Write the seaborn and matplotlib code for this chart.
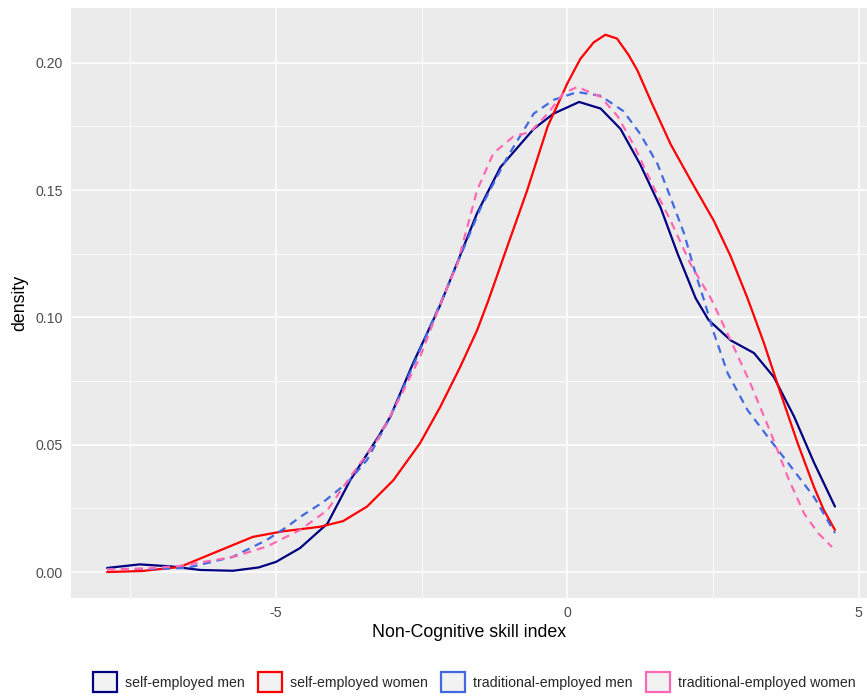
import matplotlib
matplotlib.use("Agg")
import matplotlib.pyplot as plt
import seaborn as sns
import pandas as pd
from matplotlib.patches import Patch
from matplotlib.ticker import MultipleLocator, FormatStrFormatter

# valeurs
groups = ["self-employed men", "self-employed women",
          "traditional-employed men", "traditional-employed women"]
colors = ["#000080", "#FF0000", "#4169E1", "#FF69B4"]

se_men_x = [-7.9, -7.34, -6.8, -6.3, -5.74, -5.3, -5.0, -4.59, -4.12, -3.73, -3.25,
            -3.04, -2.65, -2.2, -1.9, -1.55, -1.15, -0.58, -0.24, 0.2, 0.57, 0.91,
            1.25, 1.6, 1.89, 2.2, 2.42, 2.8, 3.2, 3.54, 3.89, 4.23, 4.59]
se_men_y = [0.0016, 0.003, 0.0022, 0.0008, 0.0005, 0.0018, 0.004, 0.0094, 0.019, 0.036, 0.053,
            0.061, 0.082, 0.104, 0.121, 0.141, 0.159, 0.174, 0.180, 0.1846, 0.182, 0.174,
            0.160, 0.143, 0.125, 0.1075, 0.099, 0.091, 0.086, 0.0766, 0.061, 0.043, 0.0257]

se_women_x = [-7.9, -7.3, -6.65, -6.08, -5.4, -4.88, -4.59, -4.24, -3.85, -3.44, -2.99,
              -2.53, -2.18, -1.84, -1.55, -1.36, -1.03, -0.69, -0.34, 0.0, 0.22, 0.45,
              0.65, 0.85, 1.05, 1.2, 1.43, 1.77, 2.11, 2.51, 2.8, 3.09, 3.37, 3.66, 3.95,
              4.23, 4.4, 4.59]
se_women_y = [0.0, 0.0004, 0.002, 0.0074, 0.0138, 0.016, 0.0168, 0.0178, 0.020, 0.0257, 0.036,
              0.0506, 0.065, 0.0806, 0.095, 0.1065, 0.128, 0.150, 0.175, 0.192, 0.2015, 0.208,
              0.211, 0.2095, 0.203, 0.197, 0.185, 0.168, 0.154, 0.138, 0.124, 0.1075, 0.090,
              0.070, 0.0506, 0.0334, 0.0243, 0.0165]

te_men_x = [-7.9, -7.2, -6.53, -5.74, -5.16, -4.81, -4.59, -4.19, -3.78, -3.44, -3.04,
            -2.65, -2.23, -2.06, -1.49, -1.03, -0.58, -0.24, 0.17, 0.57, 0.96, 1.25,
            1.55, 1.77, 2.0, 2.2, 2.34, 2.51, 2.75, 3.09, 3.44, 3.78, 4.23, 4.59]
te_men_y = [0.0012, 0.0012, 0.0016, 0.006, 0.0126, 0.0178, 0.0216, 0.0275, 0.035, 0.044, 0.061,
            0.081, 0.103, 0.112, 0.143, 0.163, 0.180, 0.1854, 0.1885, 0.187, 0.181, 0.172,
            0.160, 0.147, 0.133, 0.117, 0.107, 0.094, 0.078, 0.0636, 0.053, 0.043, 0.0295,
            0.0153]

te_women_x = [-7.9, -7.2, -6.65, -5.74, -5.16, -4.59, -4.12, -3.73, -3.26, -2.87, -2.53,
              -2.15, -1.89, -1.55, -1.27, -0.93, -0.64, -0.34, -0.07, 0.17, 0.57, 0.86,
              1.13, 1.48, 1.77, 2.11, 2.46, 2.8, 3.14, 3.49, 3.78, 4.06, 4.3, 4.54]
te_women_y = [0.001, 0.0014, 0.0024, 0.0059, 0.010, 0.0165, 0.0243, 0.0373, 0.052, 0.0687, 0.0845,
              0.107, 0.121, 0.150, 0.1645, 0.171, 0.1728, 0.180, 0.188, 0.1905, 0.1866, 0.179,
              0.168, 0.151, 0.138, 0.121, 0.1075, 0.091, 0.074, 0.0546, 0.0373, 0.023, 0.0153,
              0.0098]

series_x = [se_men_x, se_women_x, te_men_x, te_women_x]
series_y = [se_men_y, se_women_y, te_men_y, te_women_y]

frames = []
for g, xs, ys in zip(groups, series_x, series_y):
    frames.append(pd.DataFrame({"x": xs, "density": ys, "group": g}))
df = pd.concat(frames, ignore_index=True)

sns.set_theme(style="darkgrid", rc={
    "axes.facecolor": "#EBEBEB",
    "grid.color": "white",
    "axes.edgecolor": "#EBEBEB",
    "lines.solid_joinstyle": "round",
    "lines.dash_joinstyle": "round",
})
plt.rcParams["font.family"] = ["Liberation Sans", "DejaVu Sans"]

fig = plt.figure(figsize=(8.67, 6.98), dpi=100)
ax = fig.add_axes([71 / 867, 1 - 598 / 698, 1 - 71 / 867, 590 / 698])

sns.lineplot(data=df, x="x", y="density", hue="group", style="group",
             palette=dict(zip(groups, colors)),
             dashes={groups[0]: "", groups[1]: "", groups[2]: (3.6, 2.6), groups[3]: (3.6, 2.6)},
             estimator=None, sort=False, linewidth=1.6, ax=ax, legend=False)

ax.set_xlim(-8.52, 5.14)
ax.set_ylim(-0.0102, 0.2215)
ax.xaxis.set_major_locator(MultipleLocator(5))
ax.xaxis.set_minor_locator(MultipleLocator(2.5))
ax.yaxis.set_major_locator(MultipleLocator(0.05))
ax.yaxis.set_minor_locator(MultipleLocator(0.025))
ax.yaxis.set_major_formatter(FormatStrFormatter("%.2f"))
ax.xaxis.set_major_formatter(FormatStrFormatter("%g"))
ax.grid(which="major", color="white", linewidth=1.1)
ax.grid(which="minor", color="white", linewidth=0.55)
for s in ax.spines.values():
    s.set_visible(False)
ax.tick_params(which="major", length=3, width=1, color="#333333",
               labelsize=10.2, labelcolor="#4D4D4D", pad=2.9)
ax.tick_params(which="minor", length=0)

ax.set_xlabel("Non-Cognitive skill index", fontsize=12.8, color="black", labelpad=3)
ax.set_ylabel("density", fontsize=12.8, color="black", labelpad=5)

handles = [Patch(facecolor="#F2F2F2", edgecolor=c, linewidth=1.6, label=g)
           for g, c in zip(groups, colors)]
fig.legend(handles=handles, loc="center", bbox_to_anchor=(474 / 867, 1 - 682 / 698),
           ncol=4, frameon=False, fontsize=10.2, handlelength=1.7, handleheight=1.9,
           handletextpad=0.55, columnspacing=0.95)

fig.savefig("out.png", dpi=100)
